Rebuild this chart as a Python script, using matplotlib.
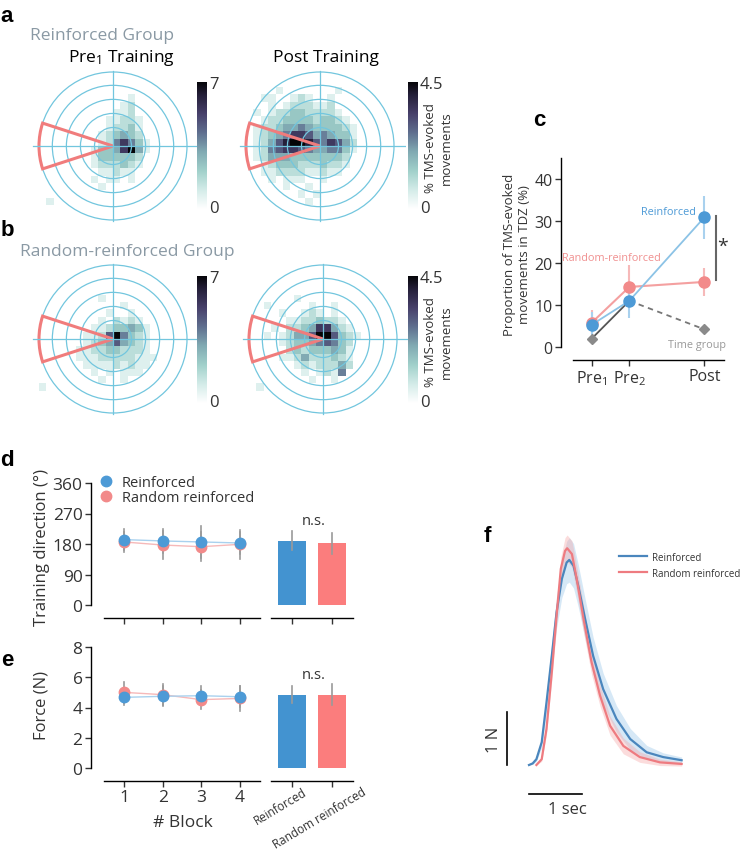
import numpy as np
import matplotlib
matplotlib.use('Agg')
import matplotlib.pyplot as plt
from matplotlib.colors import LinearSegmentedColormap
from matplotlib.patches import Circle, Wedge
from matplotlib.lines import Line2D

plt.rcParams['font.family'] = ['Open Sans', 'DejaVu Sans']
plt.rcParams['mathtext.fontset'] = 'custom'
plt.rcParams['mathtext.rm'] = 'Open Sans'
plt.rcParams['mathtext.it'] = 'Open Sans:italic'
plt.rcParams['axes.linewidth'] = 1.0

W, H = 747, 853

# ---------------- data ----------------
# heatmaps: one digit (0-9) per 0.5 x 0.5 cell, rows from top (y=5) to bottom (y=-5),
# columns from x=-5 to x=5
reinf_pre = [
    "00000000000000000000",
    "00000000000000000000",
    "00000000000000000000",
    "00000000000010000000",
    "00000000000120000000",
    "00000000001120000000",
    "00000000011221000000",
    "00000000012231000000",
    "00000000123432000000",
    "00000000125753100000",
    "00000001334794100000",
    "00000001333332000000",
    "00000001222321000000",
    "00000000112110000000",
    "00000001011010000000",
    "00000000100000000000",
    "00000000000000000000",
    "01000000000000000000",
    "00000000000000000000",
    "00000000000000000000",
]
reinf_post = [
    "00000000000000000000",
    "00000000000000000000",
    "00001000000010000000",
    "00110012100100000000",
    "00010122211200000000",
    "01012233222210000000",
    "00122333323321000000",
    "01223445433332100000",
    "01234577645433100000",
    "01246899865764200000",
    "01256776544553100000",
    "01244433333332000000",
    "00123332223221000000",
    "00112222112110000000",
    "00010111001000000000",
    "00000100100000000000",
    "00000001010000000000",
    "00000000100000000000",
    "00000000000000000000",
    "00000000000000000000",
]
rand_pre = [
    "00000000000000000000",
    "00000000000000000000",
    "00000000000000000000",
    "00000000000000000000",
    "00000000100000000000",
    "00000000000100000000",
    "00000000010010000000",
    "00000000102121000000",
    "00000001123343100000",
    "00000011269532100000",
    "00000012346432100000",
    "00000112233222100000",
    "00000111222221110000",
    "00000011112121100000",
    "00000001010111000000",
    "00000000100100000000",
    "10000000000000000000",
    "00000000000000000000",
    "00000000000000000000",
    "00000000000000000000",
]
rand_post = [
    "00000000000000000000",
    "00000000000000000000",
    "00000000000000000000",
    "00000000000000000000",
    "00000010000000000000",
    "00100000100100000000",
    "00001001210100000000",
    "00000112232210000000",
    "00010223477421000000",
    "00101244699632100000",
    "00001233456532000000",
    "00000232333431000000",
    "00001124222321000000",
    "00000012122242000000",
    "00000001012150000000",
    "00000000100100000000",
    "01000000000000000000",
    "00000000000000000000",
    "00000000000000000000",
    "00000000000000000000",
]
pre_max = 7
post_max = 4.5

# panel c
c_x = [0, 1, 3]
c_labels = ['Pre$_1$', 'Pre$_2$', 'Post']
c_reinf = [5.3, 11.0, 30.9]
c_reinf_lo = [2.5, 4.0, 5.2]
c_reinf_hi = [3.0, 2.8, 5.1]
c_rand = [5.8, 14.3, 15.5]
c_rand_lo = [2.8, 2.9, 3.3]
c_rand_hi = [2.9, 5.3, 3.4]
c_time = [2.0, 11.0, 4.2]

# panels d / e
blocks = [1, 2, 3, 4]
groups = ['Reinforced', 'Random reinforced']
d_reinf = [193, 189, 186, 183]
d_rand = [186, 177, 172, 179]
d_reinf_err = [32, 36, 47, 32]
d_rand_err = [30, 42, 42, 43]
d_bar = [190, 182]
d_bar_err = [28, 31]

e_reinf = [4.67, 4.74, 4.78, 4.71]
e_rand = [5.0, 4.85, 4.52, 4.6]
e_reinf_err = [0.5, 0.66, 0.62, 0.69]
e_rand_err = [0.7, 0.7, 0.62, 0.8]
e_bar = [4.85, 4.85]
e_bar_err = [0.55, 0.68]

# panel f (mean force traces)
f_t_reinf = [0.0, 0.07, 0.14, 0.24, 0.33, 0.43, 0.52, 0.62, 0.71, 0.76, 0.84, 0.93,
             1.06, 1.21, 1.40, 1.65, 1.91, 2.22, 2.53, 2.88]
f_reinf = [0.0, 0.03, 0.11, 0.43, 1.18, 2.06, 2.88, 3.51, 3.82, 3.87, 3.76, 3.38,
           2.75, 2.06, 1.43, 0.87, 0.49, 0.24, 0.15, 0.09]
f_reinf_sem = [0.0, 0.02, 0.04, 0.1, 0.18, 0.25, 0.3, 0.35, 0.4, 0.42, 0.42, 0.4,
               0.38, 0.35, 0.3, 0.25, 0.2, 0.13, 0.08, 0.06]
f_t_rand = [0.14, 0.24, 0.33, 0.43, 0.52, 0.60, 0.68, 0.72, 0.81, 0.90, 1.03, 1.18,
            1.34, 1.53, 1.78, 2.09, 2.47, 2.88]
f_rand = [0.0, 0.11, 0.68, 1.75, 2.82, 3.70, 4.04, 4.09, 3.98, 3.51, 2.75, 1.94,
          1.31, 0.74, 0.36, 0.15, 0.05, 0.02]
f_rand_sem = [0.0, 0.04, 0.1, 0.15, 0.2, 0.22, 0.25, 0.25, 0.25, 0.25, 0.25, 0.23,
              0.2, 0.18, 0.15, 0.1, 0.06, 0.04]

# ---------------- style ----------------
BLUE = '#4393d0'
RED = '#fb7d7d'
BLUE_M = '#4d9ad6'
RED_M = '#f28a8a'
BLUE_L = '#a9d1ee'
RED_L = '#f6b9b9'
RING = '#72c6de'
WEDGE = '#f07c7c'
GROUP_GRAY = '#8a99a4'
TXT = '#333333'
ERR = '#9a9a9a'

cmap = LinearSegmentedColormap.from_list('tms', [
    (0.0, '#ffffff'), (0.15, '#d3ebe8'), (0.3, '#a0d0ca'), (0.45, '#80a9b2'),
    (0.6, '#5f6f8f'), (0.75, '#47406a'), (0.9, '#241f38'), (1.0, '#050508')])

fig = plt.figure(figsize=(W / 100, H / 100), dpi=100)


def rect(left, top, width, height):
    return [left / W, 1 - (top + height) / H, width / W, height / H]


def ftext(x, y, s, **kw):
    kw.setdefault('color', TXT)
    return fig.text(x / W, 1 - y / H, s, **kw)


SCALE = 14.8  # pixels per heatmap unit
RADII = [1.25, 2.2, 3.15, 4.1, 5.0]


def polar_map(cx, cy, grid, vmax):
    x0, x1, y0, y1 = -5.6, 5.8, -5.4, 5.4
    ax = fig.add_axes(rect(cx + x0 * SCALE, cy - y1 * SCALE,
                           (x1 - x0) * SCALE, (y1 - y0) * SCALE))
    vals = np.array([[int(ch) for ch in row] for row in grid], dtype=float) / 9 * vmax
    vals = np.ma.masked_equal(vals, 0)
    im = ax.imshow(vals, cmap=cmap, vmin=0, vmax=vmax, extent=(-5, 5, -5, 5),
                   interpolation='nearest', aspect='auto')
    for r in RADII:
        ax.add_patch(Circle((0, 0), r, fill=False, ec=RING, lw=0.9))
    ax.plot([-5.4, 5.8], [0, 0], color=RING, lw=0.9)
    ax.plot([0, 0], [-5.05, 5.05], color=RING, lw=0.9)
    ax.add_patch(Wedge((0, 0), 5.0, 162, 198, fill=False, ec=WEDGE, lw=2.2))
    ax.set_xlim(x0, x1)
    ax.set_ylim(y0, y1)
    ax.axis('off')
    return im


def cbar(im, left, top, label_max):
    cax = fig.add_axes(rect(left, top, 10, 127))
    cb = fig.colorbar(im, cax=cax)
    cb.outline.set_visible(False)
    cb.set_ticks([])
    ftext(left + 12, top + 2, label_max, fontsize=12, ha='left', va='center')
    ftext(left + 12, top + 126, '0', fontsize=12, ha='left', va='center')


# ---------------- panels a / b ----------------
lab = dict(fontsize=16, fontweight='bold', family=['Liberation Sans', 'DejaVu Sans'],
           color='black', ha='center', va='center')
ftext(7, 16, 'a', **lab)
ftext(7, 230, 'b', **lab)
ftext(539, 121, 'c', **lab)
ftext(7, 461, 'd', **lab)
ftext(7, 660, 'e', **lab)
ftext(487, 536, 'f', **lab)

ftext(30, 36, 'Reinforced Group', fontsize=12.5, color=GROUP_GRAY, ha='left', va='center')
ftext(20, 252, 'Random-reinforced Group', fontsize=12.5, color=GROUP_GRAY,
      ha='left', va='center')
ftext(121, 58, 'Pre$_1$ Training', fontsize=12.5, color='black', ha='center', va='center')
ftext(326, 58, 'Post Training', fontsize=12.5, color='black', ha='center', va='center')

im = polar_map(113, 147, reinf_pre, pre_max)
cbar(im, 197, 83, str(pre_max))
im = polar_map(320, 147, reinf_post, post_max)
cbar(im, 408, 83, str(post_max))
im = polar_map(113, 340, rand_pre, pre_max)
cbar(im, 197, 277, str(pre_max))
im = polar_map(323, 340, rand_post, post_max)
cbar(im, 408, 277, str(post_max))

for yc in (148, 342):
    ftext(438, yc, '% TMS-evoked\nmovements', fontsize=9.5, rotation=90,
          ha='center', va='center', linespacing=1.3)

# ---------------- panel c ----------------
axc = fig.add_axes(rect(573, 159, 151, 189))
axc.errorbar(c_x, c_rand, yerr=[c_rand_lo, c_rand_hi], fmt='none', ecolor=RED_L,
             elinewidth=1.5, zorder=1)
axc.errorbar(c_x, c_reinf, yerr=[c_reinf_lo, c_reinf_hi], fmt='none', ecolor=BLUE_L,
             elinewidth=1.5, zorder=1)
axc.plot(c_x[:2], c_time[:2], color='#555555', lw=1.3, zorder=2)
axc.plot(c_x[1:], c_time[1:], color='#777777', lw=1.3, ls=(0, (3, 2.5)), zorder=2)
axc.plot(c_x, c_time, ls='none', marker='D', ms=5, color='#8a8a8a', zorder=3,
         clip_on=False)
axc.plot(c_x, c_rand, color='#f4a0a0', lw=1.5, marker='o', ms=8, mfc=RED_M, mec=RED_M,
         zorder=4, clip_on=False)
axc.plot(c_x, c_reinf, color='#8cc3e6', lw=1.3, marker='o', ms=8, mfc=BLUE_M, mec=BLUE_M,
         zorder=5, clip_on=False)
axc.plot([3.31, 3.31], [15.9, 31.1], color='#666666', lw=1.5, clip_on=False)
axc.text(3.47, 24, '*', fontsize=14, ha='center', va='center', color=TXT)
axc.text(2.05, 32.2, 'Reinforced', fontsize=7.8, color=BLUE_M, ha='center', va='center')
axc.text(0.51, 21.3, 'Random-reinforced', fontsize=7.8, color='#f09090',
         ha='center', va='center')
axc.text(2.79, 0.5, 'Time group', fontsize=7.8, color='#999999', ha='center', va='center')
axc.set_xlim(-0.5, 3.52)
axc.set_ylim(0, 45)
axc.set_xticks(c_x)
axc.set_xticklabels(c_labels)
axc.set_yticks([0, 10, 20, 30, 40])
for s in ('top', 'right'):
    axc.spines[s].set_visible(False)
axc.spines['left'].set_position(('outward', 8.6))
axc.spines['bottom'].set_position(('outward', 9.4))
axc.tick_params(length=4, width=1, color=TXT, labelcolor=TXT, labelsize=11.5, pad=2)
ftext(517, 255, 'Proportion of TMS-evoked\nmovements in TDZ (%)', fontsize=9.5,
      rotation=90, ha='center', va='center', linespacing=1.25)


# ---------------- panels d / e ----------------
def block_panels(top, height, ylim, yticks, m_reinf, m_rand, e_reinf, e_rand,
                 bars, bars_err, ns_y, show_labels):
    axl = fig.add_axes(rect(104, top, 156, height))
    axr = fig.add_axes(rect(271, top, 82, height))
    for i, b in enumerate(blocks):
        axl.plot([b, b], [m_reinf[i] - e_reinf[i], m_reinf[i] + e_reinf[i]],
                 color=ERR, lw=1.2, zorder=1)
        axl.plot([b, b], [m_rand[i] - e_rand[i], m_rand[i] + e_rand[i]],
                 color=ERR, lw=1.2, zorder=1)
    axl.plot(blocks, m_rand, color=RED_L, lw=1, zorder=2)
    axl.plot(blocks, m_reinf, color=BLUE_L, lw=1, zorder=2)
    axl.plot(blocks, m_rand, ls='none', marker='o', ms=7.5, color=RED_M, zorder=3)
    axl.plot(blocks, m_reinf, ls='none', marker='o', ms=7.5, color=BLUE_M, zorder=4)
    axl.set_xlim(0.48, 4.52)
    axl.set_ylim(*ylim)
    axl.set_yticks(yticks)
    axl.set_xticks(blocks)
    for s in ('top', 'right'):
        axl.spines[s].set_visible(False)
    axl.spines['left'].set_position(('outward', 9.4))
    axl.spines['bottom'].set_position(('outward', 9.4))
    axl.tick_params(length=4, width=1, color=TXT, labelcolor=TXT, labelsize=12.5, pad=2)
    if not show_labels:
        axl.set_xticklabels([])

    axr.bar([0, 1], bars, width=0.7, color=[BLUE, RED], zorder=1)
    for i in range(2):
        axr.plot([i, i], [bars[i] - bars_err[i], bars[i] + bars_err[i]],
                 color=ERR, lw=1.2, zorder=2)
    axr.text(0.55, ns_y, 'n.s.', fontsize=10.5, color=TXT, ha='center', va='center')
    axr.set_xlim(-0.525, 1.525)
    axr.set_ylim(*ylim)
    axr.set_xticks([0, 1])
    axr.set_xticklabels([])
    axr.set_yticks([])
    for s in ('top', 'right', 'left'):
        axr.spines[s].set_visible(False)
    axr.spines['bottom'].set_position(('outward', 9.4))
    axr.tick_params(length=4, width=1, color=TXT)
    if show_labels:
        for i, g in enumerate(groups):
            axr.text(i - 0.3, -0.14, g, transform=axr.get_xaxis_transform(),
                     rotation=31, ha='center', va='top', fontsize=8.5, color=TXT)
    return axl


axd = block_panels(484, 122, (0, 360), [0, 90, 180, 270, 360], d_reinf, d_rand,
                   d_reinf_err, d_rand_err, d_bar, d_bar_err, 250, False)
handles = [Line2D([], [], ls='none', marker='o', ms=7.5, color=BLUE_M),
           Line2D([], [], ls='none', marker='o', ms=7.5, color=RED_M)]
axd.legend(handles, groups, loc='upper left', bbox_to_anchor=(-0.035, 1.065),
           frameon=False, fontsize=10.5, handlelength=1.0, handletextpad=0.6,
           labelspacing=0.0, borderpad=0, borderaxespad=0, labelcolor=TXT)
ftext(42, 548, 'Training direction (°)', fontsize=12, rotation=90, ha='center', va='center')

axe = block_panels(648, 121, (0, 8), [0, 2, 4, 6, 8], e_reinf, e_rand,
                   e_reinf_err, e_rand_err, e_bar, e_bar_err, 6.2, True)
ftext(42, 706, 'Force (N)', fontsize=12, rotation=90, ha='center', va='center')
ftext(183, 823, '# Block', fontsize=12.5, ha='center', va='center')

# ---------------- panel f ----------------
axf = fig.add_axes(rect(481.3, 522.2, 259.7, 302.1))
rb = np.array(f_reinf)
rs = np.array(f_reinf_sem)
nb = np.array(f_rand)
ns = np.array(f_rand_sem)
axf.fill_between(f_t_reinf, rb - rs, rb + rs, color='#a5cdec', alpha=0.45, lw=0)
axf.fill_between(f_t_rand, nb - ns, nb + ns, color='#f6a9a9', alpha=0.4, lw=0)
axf.plot(f_t_reinf, f_reinf, color='#4a86bd', lw=1.6, label='Reinforced')
axf.plot(f_t_rand, f_rand, color='#ee7b80', lw=1.6, label='Random reinforced')
axf.plot([-0.415, -0.415], [0, 1], color='black', lw=1.2)
axf.plot([0, 1], [-0.55, -0.55], color='black', lw=1.2)
axf.text(-0.66, 0.5, '1 N', rotation=90, fontsize=12, ha='center', va='center', color=TXT)
axf.text(0.72, -0.83, '1 sec', fontsize=12, ha='center', va='center', color=TXT)
axf.set_xlim(-0.9, 4.0)
axf.set_ylim(-1.1, 4.6)
axf.axis('off')
axf.legend(loc='upper left', bbox_to_anchor=(0.53, 0.899), frameon=False, fontsize=7.0,
           handlelength=2.9, handletextpad=0.55, labelspacing=0.5, borderpad=0,
           borderaxespad=0, labelcolor=TXT)

fig.savefig('out.png', dpi=100)
